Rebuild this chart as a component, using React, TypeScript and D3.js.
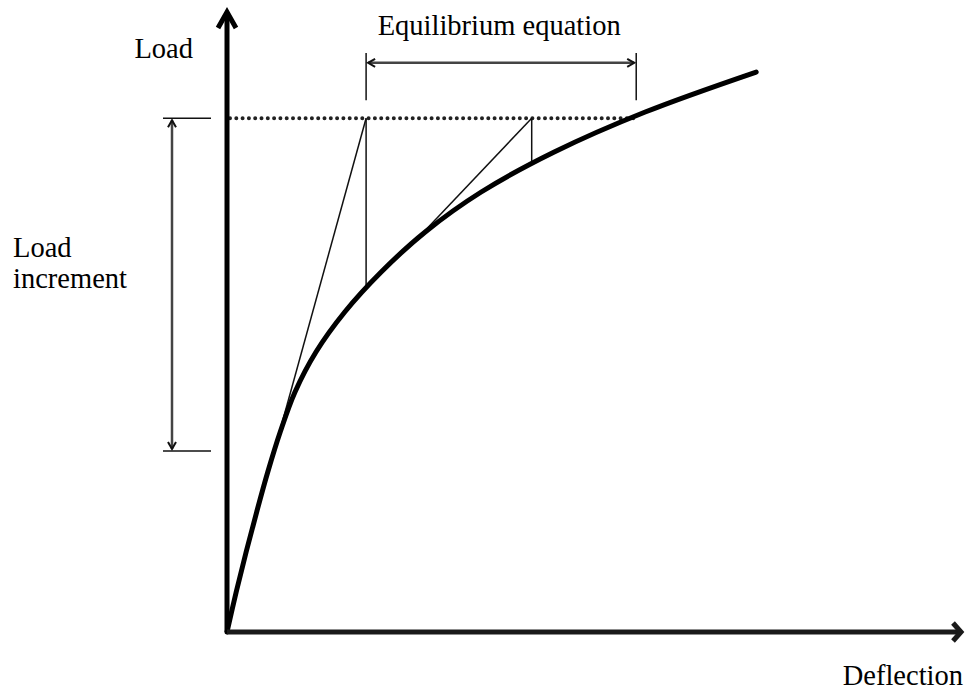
import React from 'react'
import * as d3 from 'd3'

const W = 965
const H = 690

// load-deflection curve, both in % of the axis length
const deflection = [0, 1.25, 2.6, 4.03, 5.54, 7.23, 9.24, 12.09, 16.0, 20.95, 26.93, 34.54, 44.46, 56.82, 71.9]
const load = [0, 6.43, 12.86, 19.29, 25.72, 32.15, 38.59, 45.02, 51.45, 57.88, 64.31, 70.74, 77.17, 83.6, 90.03]

// previous and target load level
const loadLevels = [29.1, 82.6]

// iterations: tangent from curve point up to target load, then straight down to the curve
const tangentFromX = [6.43, 25.6]
const tangentFromY = [29.1, 62.9]
const iterX = [18.9, 41.4]
const iterCurveY = [55.2, 75.2]

// span marked "Equilibrium equation"
const equilibriumSpan = [18.9, 55.6]
const dottedEnd = 55.3

const font = '"Liberation Serif", "Times New Roman", serif'

const x = d3.scaleLinear().domain([0, 100]).range([227, 963])
const y = d3.scaleLinear().domain([0, 100]).range([632, 10])

// open chevron arrow head at (tx,ty) pointing along angle (radians)
function chevron(tx: number, ty: number, angle: number, len: number, half: number) {
  const bx = tx - Math.cos(angle) * len
  const by = ty - Math.sin(angle) * len
  const px = -Math.sin(angle) * half
  const py = Math.cos(angle) * half
  return `M${bx + px},${by + py}L${tx},${ty}L${bx - px},${by - py}`
}

export default function App() {
  const pts = deflection.map((d, i) => [d, load[i]] as [number, number])
  const curve = d3.line<[number, number]>()
    .x(d => x(d[0]))
    .y(d => y(d[1]))
    .curve(d3.curveCatmullRom.alpha(0.5))(pts)

  const top = loadLevels[1]
  const bottom = loadLevels[0]
  const ox = x(0)
  const oy = y(0)

  // equilibrium bracket heights (load units)
  const eqLo = 85.5
  const eqHi = 93.1
  const eqArrow = 91.5

  const incArrowX = ox - 55
  const tickL = ox - 64
  const tickR = ox - 16

  return (
    <svg width={W} height={H} style={{ position: 'absolute', left: 0, top: 0, background: '#fff' }}>
      {/* target load level, dotted */}
      <line x1={ox + 3} y1={y(top)} x2={x(dottedEnd)} y2={y(top)}
        stroke='#222' strokeWidth={4} strokeLinecap='round' strokeDasharray='0 6.3' />

      {/* iterations */}
      {iterX.map((ix, i) => (
        <g key={'it' + i} stroke='#111' strokeWidth={1.5} fill='none'>
          <line x1={x(tangentFromX[i])} y1={y(tangentFromY[i])} x2={x(ix)} y2={y(top)} />
          <line x1={x(ix)} y1={y(top)} x2={x(ix)} y2={y(iterCurveY[i])} />
        </g>
      ))}

      {/* curve */}
      <path d={curve || ''} fill='none' stroke='#000' strokeWidth={5} strokeLinecap='round' />

      {/* axes */}
      <g stroke='#000' fill='none' strokeWidth={5} strokeLinejoin='miter'>
        <line x1={ox} y1={oy} x2={ox} y2={y(100) + 2} />
        <path d={chevron(ox, y(100) + 2, -Math.PI / 2, 16, 9)} />
        <line x1={ox} y1={oy} x2={x(100) - 2} y2={oy} stroke='#1a1a1a' />
        <path d={chevron(x(100) - 2, oy, 0, 8, 9)} stroke='#1a1a1a' />
      </g>

      {/* load increment dimension */}
      <g fill='none'>
        <line x1={tickL} y1={y(top)} x2={tickR} y2={y(top)} stroke='#111' strokeWidth={1.5} />
        <line x1={tickL} y1={y(bottom)} x2={tickR} y2={y(bottom)} stroke='#111' strokeWidth={1.5} />
        <line x1={incArrowX} y1={y(top) + 2} x2={incArrowX} y2={y(bottom) - 2} stroke='#444' strokeWidth={2.5} />
        <path d={chevron(incArrowX, y(top) + 2, -Math.PI / 2, 7, 4)} stroke='#111' strokeWidth={2} />
        <path d={chevron(incArrowX, y(bottom) - 2, Math.PI / 2, 7, 4)} stroke='#111' strokeWidth={2} />
      </g>

      {/* equilibrium equation dimension */}
      <g fill='none'>
        <line x1={x(equilibriumSpan[0])} y1={y(eqLo)} x2={x(equilibriumSpan[0])} y2={y(eqHi)} stroke='#111' strokeWidth={1.5} />
        <line x1={x(equilibriumSpan[1])} y1={y(eqLo)} x2={x(equilibriumSpan[1])} y2={y(eqHi)} stroke='#111' strokeWidth={1.5} />
        <line x1={x(equilibriumSpan[0]) + 2} y1={y(eqArrow)} x2={x(equilibriumSpan[1]) - 2} y2={y(eqArrow)} stroke='#444' strokeWidth={2.5} />
        <path d={chevron(x(equilibriumSpan[0]) + 2, y(eqArrow), Math.PI, 7, 4)} stroke='#111' strokeWidth={2} />
        <path d={chevron(x(equilibriumSpan[1]) - 2, y(eqArrow), 0, 7, 4)} stroke='#111' strokeWidth={2} />
      </g>

      {/* labels */}
      <g fontFamily={font} fontSize={28.5} fill='#000'>
        <text x={193} y={58} textAnchor='end'>Load</text>
        <text x={(x(equilibriumSpan[0]) + x(equilibriumSpan[1])) / 2 - 2} y={35} textAnchor='middle'>Equilibrium equation</text>
        <text x={13} y={257}>Load</text>
        <text x={13} y={288}>increment</text>
        <text x={963} y={685} textAnchor='end'>Deflection</text>
      </g>
    </svg>
  )
}
